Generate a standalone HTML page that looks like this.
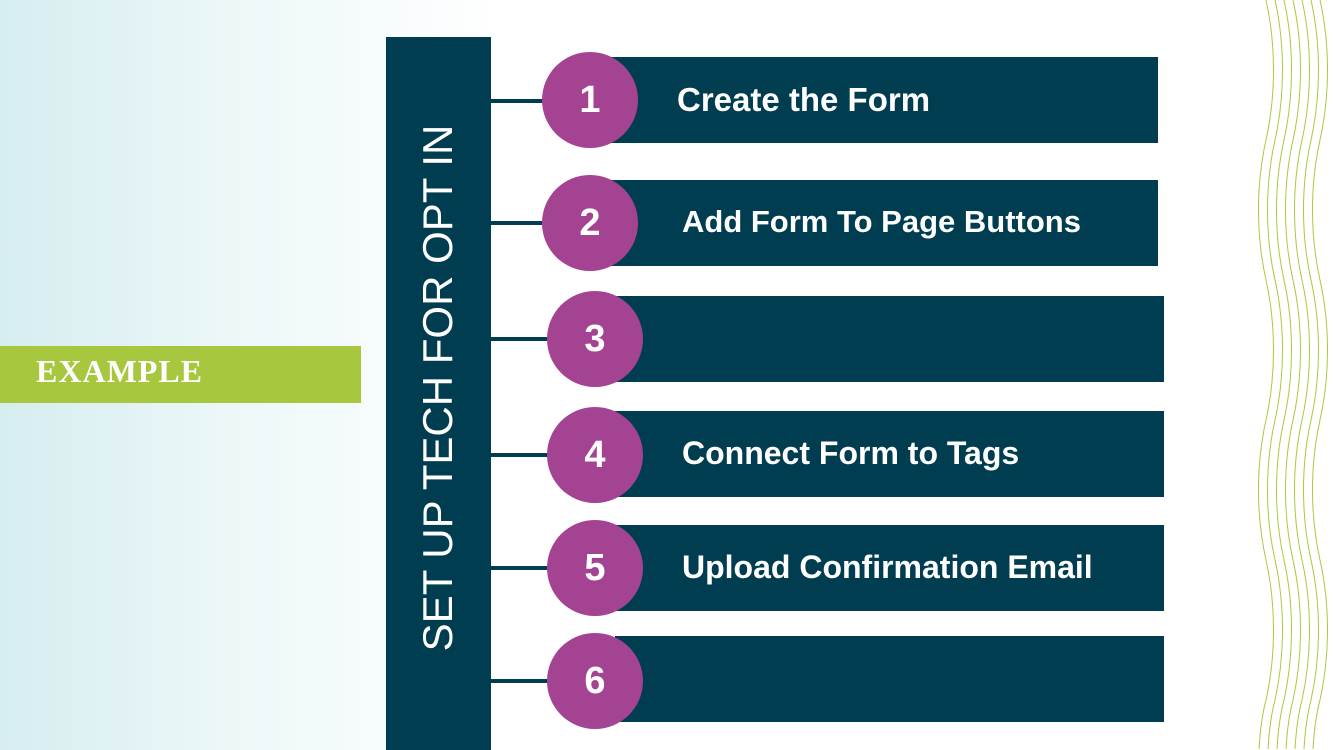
<!DOCTYPE html>
<html><head><meta charset="utf-8"><style>
html,body{margin:0;width:1333px;height:750px;overflow:hidden}
body{position:relative;font-family:"Liberation Sans",sans-serif;
background:linear-gradient(90deg,#d6edf0 0px,#eef8f9 250px,#ffffff 500px,#fff 100%);}
.abs{position:absolute}
.bar{position:absolute;background:#013d51;height:86px}
.circ{position:absolute;width:96px;height:96px;border-radius:50%;background:#a54393;color:#fff;font-size:38px;font-weight:bold;display:flex;align-items:center;justify-content:center}
.line{position:absolute;left:491px;height:4px;background:#013d51}
.t{position:absolute;color:#fff;font-size:32px;font-weight:bold;white-space:nowrap}
</style></head><body>
<div class="abs" style="left:0;top:346px;width:361px;height:57px;background:#a7c83e"></div>
<div class="abs" style="left:36px;top:353px;color:#fff;font-family:'Liberation Serif',serif;font-weight:bold;font-size:32px;letter-spacing:1px">EXAMPLE</div>
<div class="abs" style="left:386px;top:37px;width:105px;height:713px;background:#013d51"></div>
<div class="abs" style="left:438px;top:388px;transform:translate(-50%,-50%) rotate(-90deg);color:#fff;font-size:42px;white-space:nowrap;line-height:48px">SET UP TECH FOR OPT IN</div>

<div class="line" style="top:99px;width:60px"></div>
<div class="bar" style="left:610px;top:57px;width:548px"></div>
<div class="circ" style="left:542px;top:52px">1</div>
<div class="t" style="left:677px;top:81px;font-size:33px">Create the Form</div>

<div class="line" style="top:221px;width:60px"></div>
<div class="bar" style="left:610px;top:180px;width:548px"></div>
<div class="circ" style="left:542px;top:175px">2</div>
<div class="t" style="left:682px;top:204px;font-size:31px">Add Form To Page Buttons</div>

<div class="line" style="top:337px;width:65px"></div>
<div class="bar" style="left:615px;top:296px;width:549px"></div>
<div class="circ" style="left:547px;top:291px">3</div>

<div class="line" style="top:453px;width:65px"></div>
<div class="bar" style="left:615px;top:411px;width:549px"></div>
<div class="circ" style="left:547px;top:407px">4</div>
<div class="t" style="left:682px;top:435px">Connect Form to Tags</div>

<div class="line" style="top:566px;width:65px"></div>
<div class="bar" style="left:615px;top:525px;width:549px"></div>
<div class="circ" style="left:547px;top:520px">5</div>
<div class="t" style="left:682px;top:549px">Upload Confirmation Email</div>

<div class="line" style="top:679px;width:65px"></div>
<div class="bar" style="left:615px;top:636px;width:549px"></div>
<div class="circ" style="left:547px;top:633px">6</div>

<svg class="abs" style="left:0;top:0;display:block;overflow:hidden" width="1333" height="750">
<defs><path id="w" d="M0,0 C10,45 10,95 0,140 C-10,185 -10,235 0,280 C10,325 10,375 0,420 C-10,465 -10,515 0,560 C10,605 10,655 0,700 C-4,715 -6,732 -7,749" fill="none" stroke="#a8c940" stroke-width="1"/></defs>
<use href="#w" x="1266"/><use href="#w" x="1275"/><use href="#w" x="1284"/><use href="#w" x="1293"/>
<use href="#w" x="1302"/><use href="#w" x="1311"/><use href="#w" x="1320"/>
</svg>
</body></html>
